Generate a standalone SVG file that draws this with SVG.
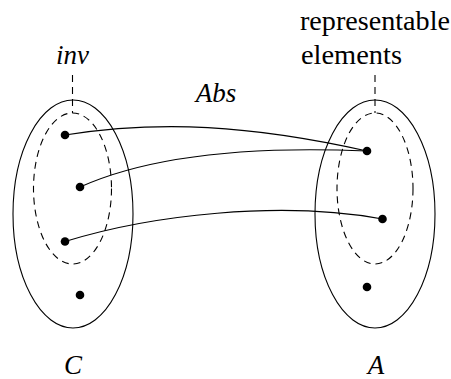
<svg xmlns="http://www.w3.org/2000/svg" width="451" height="379" viewBox="0 0 451 379">
<style>
.outer{fill:none;stroke:#000;stroke-width:1.1}
.inner{fill:none;stroke:#000;stroke-width:1.1;stroke-dasharray:7 5}
.conn{fill:none;stroke:#000;stroke-width:1.1}
.dot{fill:#000}
text{font-family:"Liberation Serif","Times New Roman",serif;font-size:27px;fill:#000}
.up{font-size:28px}
.it{font-style:italic}
</style>
<rect width="451" height="379" fill="#fff"/>
<g id="setC">
<ellipse class="outer" cx="73" cy="214" rx="60" ry="114"/>
<ellipse class="inner" cx="72.5" cy="188.5" rx="39" ry="75.5"/>
<line class="inner" x1="72.5" y1="75" x2="72.5" y2="113"/>
<text class="it" x="72.5" y="64" text-anchor="middle">inv</text>
<text class="it" x="73" y="374" text-anchor="middle">C</text>
<circle class="dot" cx="65" cy="135" r="4.3"/>
<circle class="dot" cx="80" cy="187" r="4.3"/>
<circle class="dot" cx="65" cy="241.5" r="4.3"/>
<circle class="dot" cx="80" cy="295" r="4.3"/>
</g>
<g id="setA">
<ellipse class="outer" cx="375" cy="214" rx="60" ry="114"/>
<ellipse class="inner" cx="375" cy="188.5" rx="38" ry="75.5"/>
<line class="inner" x1="375" y1="75" x2="375" y2="113"/>
<text class="up" x="300" y="30" textLength="150" lengthAdjust="spacingAndGlyphs">representable</text>
<text class="up" x="301" y="64" textLength="101" lengthAdjust="spacingAndGlyphs">elements</text>
<text class="it" x="376" y="374" text-anchor="middle">A</text>
<circle class="dot" cx="367" cy="151" r="4.3"/>
<circle class="dot" cx="382.5" cy="219" r="4.3"/>
<circle class="dot" cx="367" cy="287" r="4.3"/>
</g>
<g id="connectors">
<text class="it" x="216" y="102" text-anchor="middle">Abs</text>
<path class="conn" d="M65,135 C160,120 250,125 367,151"/>
<path class="conn" d="M80,187 C140,160 230,145 367,151"/>
<path class="conn" d="M65,241.5 C150,215 280,200 382.5,219"/>
</g>
</svg>
